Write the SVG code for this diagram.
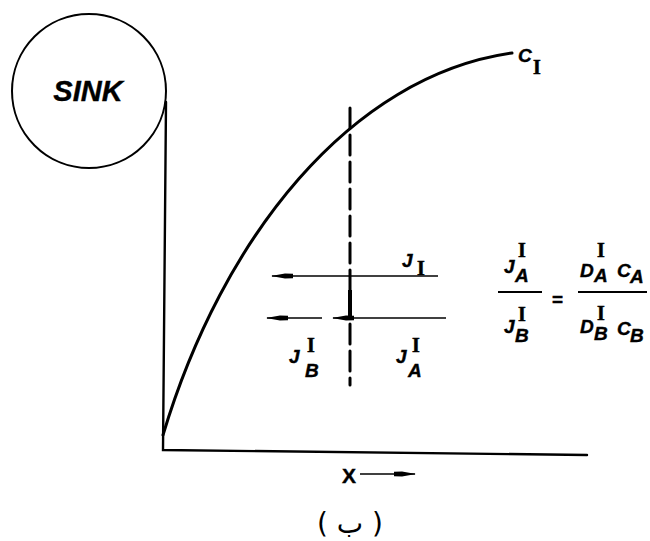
<svg xmlns="http://www.w3.org/2000/svg" width="650" height="541" viewBox="0 0 650 541">
<style>
.ln{fill:none;stroke:#000;stroke-linecap:round}
.s{font-family:"Liberation Sans",Arial,sans-serif;font-weight:bold;font-style:italic;font-size:19px;fill:#000;stroke:#000;stroke-width:0.4}
.r{font-family:"Liberation Serif","Times New Roman",serif;font-weight:bold;font-size:20px;fill:#000;stroke:#000;stroke-width:0.5}
</style>
<defs>
<marker id="ah" markerUnits="userSpaceOnUse" viewBox="0 0 22 8" refX="21" refY="4" markerWidth="22" markerHeight="8" orient="auto">
<path d="M0,1.8 L8,1.5 L22,4 L8,6.5 L0,6.2 z" fill="#000"/>
</marker>
</defs>
<rect width="650" height="541" fill="#fff"/>
<g id="sink">
<circle cx="89" cy="91" r="77" class="ln" stroke-width="2"/>
<text x="88" y="101" class="s" text-anchor="middle" style="font-size:29px">SINK</text>
</g>
<g id="axes">
<path class="ln" stroke-width="2.4" d="M166,102 L163,450 L587,455"/>
</g>
<g id="curve">
<path class="ln" stroke-width="3" d="M163,435 C222,238 350,76 512,53"/>
<text x="518" y="62" class="s">C</text><text x="533" y="74" class="r">I</text>
</g>
<g id="connectors">
<line class="ln" x1="350" y1="108" x2="350" y2="385" stroke-width="3" stroke-dasharray="20 7" stroke-linecap="butt"/>
<line x1="350" y1="290" x2="350" y2="318" stroke="#000" stroke-width="4"/>
<line x1="438" y1="276" x2="272" y2="276" stroke="#000" stroke-width="1.5" marker-end="url(#ah)"/>
<line x1="322" y1="318" x2="267" y2="318" stroke="#000" stroke-width="1.5" marker-end="url(#ah)"/>
<line x1="446" y1="318" x2="333" y2="318" stroke="#000" stroke-width="1.5" marker-end="url(#ah)"/>
<line x1="360" y1="474" x2="415" y2="474" stroke="#000" stroke-width="1.5" marker-end="url(#ah)"/>
</g>
<g id="labels">
<text x="402" y="267" class="s">J</text><text x="417" y="275" class="r">I</text>
<text x="289" y="363" class="s">J</text><text x="307" y="352" class="r">I</text><text x="305" y="377" class="s">B</text>
<text x="396" y="363" class="s">J</text><text x="412" y="352" class="r">I</text><text x="408" y="377" class="s">A</text>
</g>
<g id="equation">
<text x="504" y="273" class="s">J</text><text x="518" y="257" class="r">I</text><text x="515" y="282" class="s">A</text>
<line x1="498" y1="292" x2="542" y2="292" stroke="#000" stroke-width="2"/>
<text x="504" y="333" class="s">J</text><text x="518" y="321" class="r">I</text><text x="515" y="342" class="s">B</text>
<text x="557.5" y="306" class="s" text-anchor="middle" style="font-style:normal">=</text>
<text x="580" y="277" class="s">D</text><text x="597" y="257" class="r">I</text><text x="594" y="282" class="s">A</text>
<text x="617" y="277" class="s">C</text><text x="630" y="283" class="s">A</text>
<line x1="578" y1="292" x2="647" y2="292" stroke="#000" stroke-width="2"/>
<text x="580" y="333" class="s">D</text><text x="597" y="320" class="r">I</text><text x="594" y="340" class="s">B</text>
<text x="617" y="335" class="s">C</text><text x="630" y="342" class="s">B</text>
</g>
<g id="xlabel">
<text x="342" y="483" class="s" style="font-size:21px;font-style:normal">X</text>
<text x="350" y="533" text-anchor="middle" style="font-family:'DejaVu Sans','Noto Sans',sans-serif;font-size:28px" fill="#000">( ب )</text>
</g>
</svg>
